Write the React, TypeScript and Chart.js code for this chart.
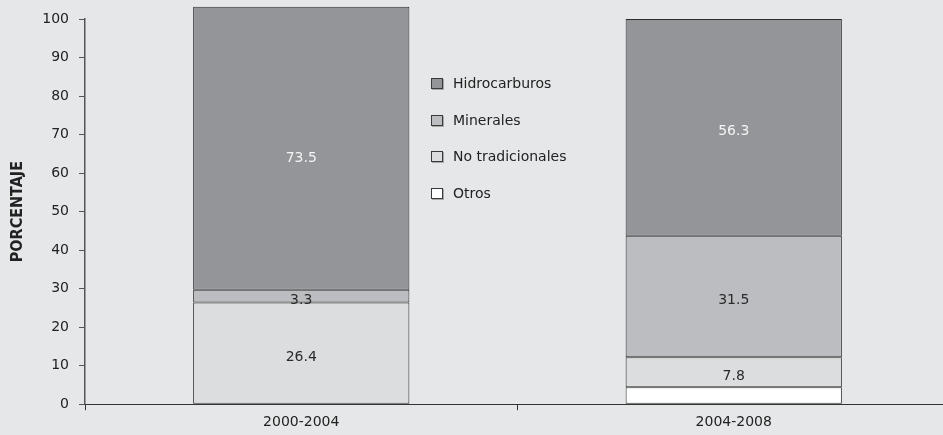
import React, { useEffect, useRef } from "react";
import { Chart, registerables } from "chart.js";

Chart.register(...registerables);

const categories = ["2000-2004", "2004-2008"];
const otros = [0, 4.4];
const noTradicionales = [26.4, 7.8];
const minerales = [3.3, 31.5];
const hidrocarburos = [73.5, 56.3];
const yTicks = [0, 10, 20, 30, 40, 50, 60, 70, 80, 90, 100];

const FONT = "'DejaVu Sans', Verdana, sans-serif";

const series = [
  { label: "Otros", data: otros, color: "#ffffff", text: "#2a2a2a", showLabel: false },
  { label: "No tradicionales", data: noTradicionales, color: "#dcdddf", text: "#2a2a2a", showLabel: true },
  { label: "Minerales", data: minerales, color: "#bcbdc0", text: "#2a2a2a", showLabel: true },
  { label: "Hidrocarburos", data: hidrocarburos, color: "#939598", text: "#f4f4f4", showLabel: true },
];

const labelPlugin = {
  id: "segLabels",
  afterDatasetsDraw(chart: any) {
    const ctx = chart.ctx;
    const area = chart.chartArea;
    ctx.save();
    ctx.font = `14px ${FONT}`;
    ctx.textAlign = "center";
    ctx.textBaseline = "middle";
    chart.data.datasets.forEach((ds: any, i: number) => {
      if (!series[i].showLabel) return;
      const meta = chart.getDatasetMeta(i);
      meta.data.forEach((el: any, j: number) => {
        const v = ds.data[j];
        if (!v) return;
        const top = Math.max(el.y, area.top);
        const bottom = el.base;
        const cy = (top + bottom) / 2 + 4;
        ctx.fillStyle = series[i].text;
        ctx.fillText(v.toFixed(1), el.x, cy);
      });
    });
    ctx.restore();
  },
};

const legendPlugin = {
  id: "customLegend",
  afterDraw(chart: any) {
    const ctx = chart.ctx;
    const area = chart.chartArea;
    const x0 = Math.round(area.left + 0.4 * (area.right - area.left));
    const y0 = area.top + 64;
    const step = 36.5;
    ctx.save();
    ctx.font = `14px ${FONT}`;
    ctx.textAlign = "left";
    ctx.textBaseline = "middle";
    const items = [...series].reverse();
    items.forEach((s, k) => {
      const cy = Math.round(y0 + k * step);
      ctx.fillStyle = "#a8a8a8";
      ctx.fillRect(x0 + 1, cy - 4, 12, 11);
      ctx.fillStyle = s.color;
      ctx.fillRect(x0, cy - 5, 12, 11);
      ctx.strokeStyle = "#3a3a3a";
      ctx.lineWidth = 1;
      ctx.strokeRect(x0 + 0.5, cy - 4.5, 11, 10);
      ctx.fillStyle = "#222222";
      ctx.fillText(s.label, x0 + 22, cy + 1);
    });
    ctx.restore();
  },
};

export default function App() {
  const ref = useRef<HTMLCanvasElement | null>(null);

  useEffect(() => {
    if (!ref.current) return;
    const chart = new Chart(ref.current, {
      type: "bar",
      data: {
        labels: categories,
        datasets: series.map((s) => ({
          label: s.label,
          data: s.data,
          backgroundColor: s.color,
          borderColor: "#2e2e2e",
          borderWidth: 1,
          borderSkipped: false,
          barPercentage: 1,
          categoryPercentage: 0.5,
          clip: false as any,
        })),
      },
      options: {
        responsive: false,
        animation: false,
        devicePixelRatio: 1,
        layout: { padding: { top: 19, right: 10, left: 0, bottom: 0 } },
        plugins: {
          legend: { display: false },
          tooltip: { enabled: false },
        },
        scales: {
          x: {
            stacked: true,
            offset: true,
            grid: {
              offset: true,
              drawOnChartArea: false,
              drawTicks: true,
              tickLength: 6,
              color: "#333333",
            },
            border: { color: "#333333", width: 1 },
            ticks: {
              color: "#222222",
              font: { family: FONT, size: 14 },
              padding: 4,
            },
          },
          y: {
            stacked: true,
            min: 0,
            max: 100,
            afterBuildTicks: (scale: any) => {
              scale.ticks = yTicks.map((v) => ({ value: v }));
            },
            afterFit: (scale: any) => {
              scale.width = 85;
            },
            grid: {
              drawOnChartArea: false,
              drawTicks: true,
              tickLength: 6,
              color: "#555555",
            },
            border: { color: "#555555", width: 1.5 },
            ticks: {
              color: "#222222",
              font: { family: FONT, size: 14 },
              padding: 10,
            },
            title: {
              display: true,
              text: "PORCENTAJE",
              color: "#222222",
              font: { family: "'DejaVu Sans Condensed', 'DejaVu Sans', sans-serif", size: 16, weight: "bold" },
              padding: { top: 8, bottom: 0 },
            },
          },
        },
      },
      plugins: [labelPlugin, legendPlugin],
    });
    return () => chart.destroy();
  }, []);

  return (
    <div
      style={{
        position: "absolute",
        left: 0,
        top: 0,
        width: 943,
        height: 435,
        overflow: "hidden",
        background: "#e6e7e8",
      }}
    >
      <canvas ref={ref} width={960} height={435} style={{ display: "block" }} />
    </div>
  );
}
